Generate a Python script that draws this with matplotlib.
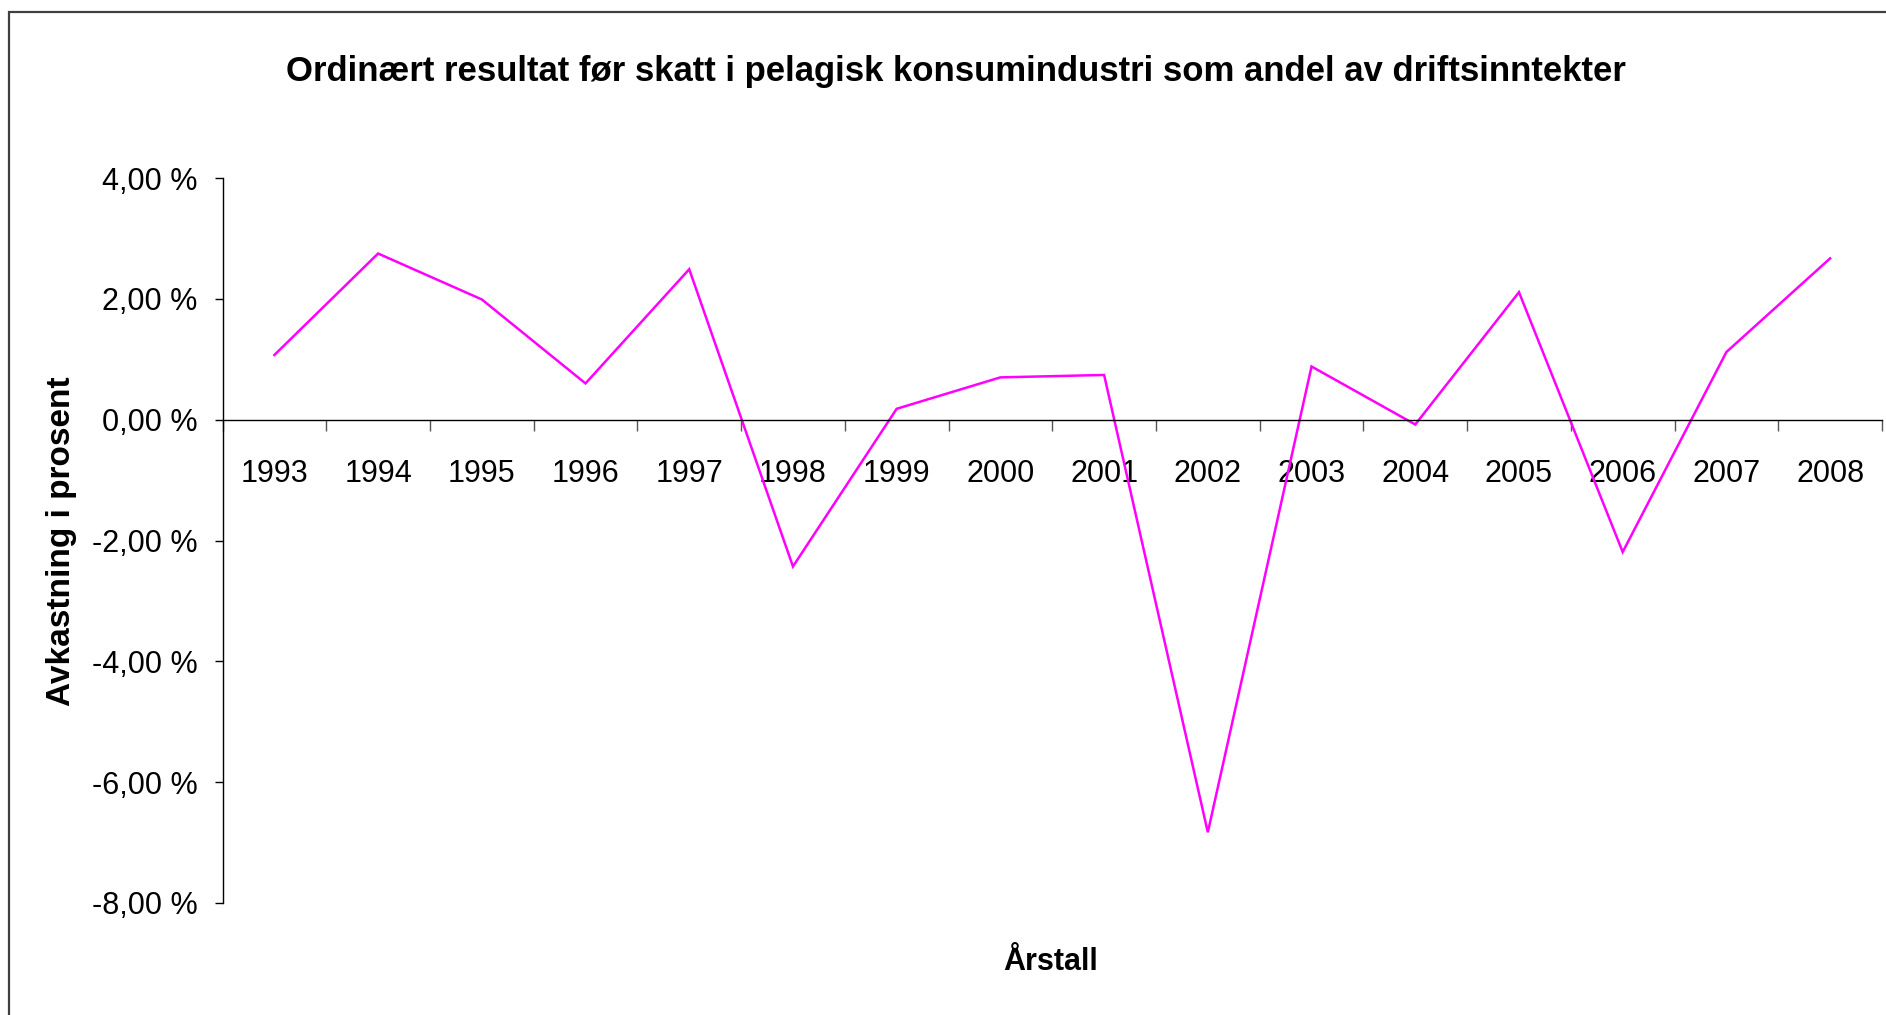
import matplotlib
matplotlib.use("Agg")
import matplotlib.pyplot as plt
from matplotlib.patches import Rectangle
from matplotlib.ticker import FixedLocator, FuncFormatter

years = ["1993", "1994", "1995", "1996", "1997", "1998", "1999", "2000",
         "2001", "2002", "2003", "2004", "2005", "2006", "2007", "2008"]
values = [1.07, 2.75, 1.99, 0.60, 2.49, -2.43, 0.18, 0.70,
          0.74, -6.83, 0.88, -0.08, 2.11, -2.19, 1.12, 2.67]
yticks = [4, 2, 0, -2, -4, -6, -8]

title = "Ordinært resultat før skatt i pelagisk konsumindustri som andel av driftsinntekter"
ylabel = "Avkastning i prosent"
xlabel = "Årstall"

plt.rcParams['font.family'] = ['Liberation Sans', 'DejaVu Sans']

W, H = 1886, 1015
fig = plt.figure(figsize=(W / 100, H / 100), dpi=100)

# outer frame
fig.patches.append(Rectangle((9 / W, -0.1), 1.2, 1 - 12 / H + 0.1, transform=fig.transFigure,
                             fill=False, edgecolor="#404040", linewidth=1.6))

ax = fig.add_axes([222.5 / W, 1 - 903 / H, (1882 - 222.5) / W, (903 - 178) / H])
x = list(range(len(years)))
ax.plot(x, values, color="#FF00FF", linewidth=1.8, solid_joinstyle="miter")

ax.set_xlim(-0.5, len(years) - 0.5)
ax.set_ylim(-8, 4)

for s in ["top", "right"]:
    ax.spines[s].set_visible(False)
ax.spines["bottom"].set_position(("data", 0))
ax.spines["bottom"].set_linewidth(1.0)
ax.spines["left"].set_linewidth(1.0)

ax.xaxis.set_major_locator(FixedLocator([i - 0.5 for i in range(len(years) + 1)]))
ax.xaxis.set_minor_locator(FixedLocator(x))
ax.xaxis.set_major_formatter(FuncFormatter(lambda v, p: ""))
ax.set_xticklabels(years, minor=True)
ax.tick_params(axis="x", which="major", direction="out", length=8, width=1, color="#555555")
ax.tick_params(axis="x", which="minor", length=0, pad=28, labelsize=22)

ax.set_yticks(yticks)
ax.set_yticklabels([f"{v:,.2f} %".replace(".", ",") for v in yticks])
ax.tick_params(axis="y", direction="out", length=6, width=1, pad=12, labelsize=22)

fig.text(956 / W, 1 - 72 / H, title, ha="center", va="center", fontsize=25, fontweight="bold")
fig.text(62 / W, 1 - 541 / H, ylabel, ha="center", va="center", rotation=90,
         fontsize=24, fontweight="bold")
fig.text(1051 / W, 1 - 962 / H, xlabel, ha="center", va="center", fontsize=22, fontweight="bold")

fig.savefig("out.png", dpi=100)
